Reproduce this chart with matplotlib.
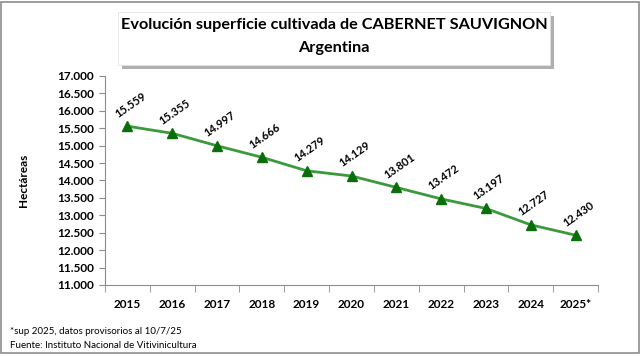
import matplotlib.pyplot as plt
from matplotlib.patches import Rectangle

plt.rcParams['font.family'] = ['Lato', 'DejaVu Sans']

years = ['2015', '2016', '2017', '2018', '2019', '2020', '2021', '2022', '2023', '2024', '2025*']
hectares = [15559, 15355, 14997, 14666, 14279, 14129, 13801, 13472, 13197, 12727, 12430]
yticks = [11000, 11500, 12000, 12500, 13000, 13500, 14000, 14500, 15000, 15500, 16000, 16500, 17000]


def fmt(v):
    return f'{v:,}'.replace(',', '.')


W, H = 644, 356
fig = plt.figure(figsize=(W / 100, H / 100), dpi=100)
fig.patch.set_facecolor('white')

# outer frame
fig.add_artist(Rectangle((1 / W, 3 / H), 638 / W, 351 / H, transform=fig.transFigure,
                         fill=False, edgecolor='#8c8c8c', linewidth=1.2))

# title box with shadow
bx, by, bw, bh = 118, 12, 432, 53
fig.add_artist(Rectangle(((bx + 4) / W, 1 - (by + bh + 4) / H), bw / W, bh / H,
                         transform=fig.transFigure, facecolor='#b0b0b0', edgecolor='none'))
fig.add_artist(Rectangle((bx / W, 1 - (by + bh) / H), bw / W, bh / H,
                         transform=fig.transFigure, facecolor='white', edgecolor='#e0e0e0',
                         linewidth=0.5))
fig.text((bx + bw / 2) / W, 1 - 25 / H, 'Evolución superficie cultivada de CABERNET SAUVIGNON',
         ha='center', va='center', fontsize=11.7, fontweight='bold')
fig.text((bx + bw / 2) / W, 1 - 48 / H, 'Argentina',
         ha='center', va='center', fontsize=11.7, fontweight='bold')

ax = fig.add_axes([105 / W, 1 - 285 / H, 493 / W, 209 / H])
x = list(range(len(years)))
ax.plot(x, hectares, color='#3c9a3c', linewidth=2, marker='^', markersize=7.5,
        markerfacecolor='#0a6e0a', markeredgecolor='#0a6e0a', zorder=3)
for xi, v in zip(x, hectares):
    ax.annotate(fmt(v), (xi, v), xytext=(-6, 5), textcoords='offset points',
                rotation=35, ha='left', va='bottom', fontsize=8, fontweight='bold',
                rotation_mode='anchor')

ax.set_xlim(-0.5, len(years) - 0.5)
ax.set_ylim(11000, 17000)
ax.set_yticks(yticks)
ax.set_yticklabels([fmt(t) for t in yticks], fontsize=8.5, fontweight='bold')
ax.set_xticks(x)
ax.set_xticklabels(years, fontsize=8.5, fontweight='bold')
ax.set_xticks([i + 0.5 for i in range(-1, len(years))], minor=True)
ax.tick_params(axis='x', which='major', length=0, pad=10)
ax.tick_params(axis='x', which='minor', length=5, color='#8c8c8c', direction='out')
ax.tick_params(axis='y', length=4, color='#8c8c8c', pad=4)
for s in ['top', 'right']:
    ax.spines[s].set_visible(False)
for s in ['left', 'bottom']:
    ax.spines[s].set_color('#8c8c8c')
ax.set_ylabel('Hectáreas', fontsize=8.5, fontweight='bold')
ax.yaxis.set_label_coords(-0.155, 0.5)

fig.text(10 / W, 1 - 332 / H, '*sup 2025, datos provisorios al 10/7/25', fontsize=7, va='center')
fig.text(10 / W, 1 - 346 / H, 'Fuente: Instituto Nacional de Vitivinicultura', fontsize=7, va='center')

fig.savefig('out.png', dpi=100)
